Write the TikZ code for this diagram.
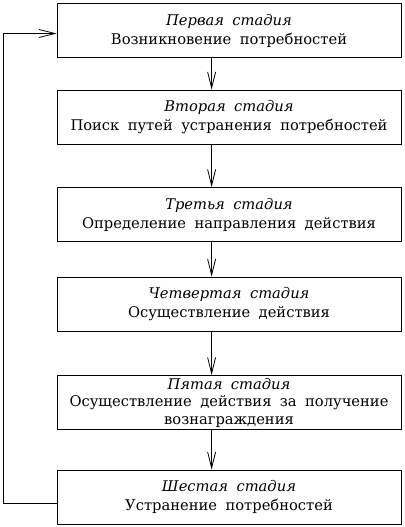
\documentclass[tikz,border=0pt]{standalone}
\usepackage{fontspec}
\setmainfont{DejaVu Serif}[WordSpace=1.8]
\usepackage{tikz}
\usetikzlibrary{arrows.meta}

\begin{document}
\begin{tikzpicture}[x=1pt,y=-1pt,
    stage/.style={draw, line width=0.8pt, minimum width=344pt, minimum height=54pt,
        align=center, inner sep=1pt, font=\fontsize{14.7}{19}\selectfont},
    flow/.style={line width=0.8pt, -{Straight Barb[length=16pt,width=8pt]}}]
    \useasboundingbox (0,0) rectangle (404,527);
    \node[stage] (st1) at (229,30.5) {\textit{Первая стадия}\\Возникновение потребностей};
    \node[stage] (st2) at (229,117) {\textit{Вторая стадия}\\Поиск путей устранения потребностей};
    \node[stage] (st3) at (229,214.5) {\textit{Третья стадия}\\Определение направления действия};
    \node[stage] (st4) at (229,304) {\textit{Четвертая стадия}\\Осуществление действия};
    \node[stage, font=\fontsize{14.7}{17.5}\selectfont] (st5) at (229,402.5) {\textit{Пятая стадия}\\Осуществление действия за получение\\вознаграждения};
    \node[stage] (st6) at (229,497) {\textit{Шестая стадия}\\Устранение потребностей};
    \draw[flow] ([xshift=155pt]st1.south west) -- ([xshift=155pt]st2.north west);
    \draw[flow] ([xshift=155pt]st2.south west) -- ([xshift=155pt]st3.north west);
    \draw[flow] ([xshift=155pt]st3.south west) -- ([xshift=155pt]st4.north west);
    \draw[flow] ([xshift=155pt]st4.south west) -- ([xshift=155pt]st5.north west);
    \draw[flow] ([xshift=155pt]st5.south west) -- ([xshift=155pt]st6.north west);
    \draw[flow] ([yshift=-6pt]st6.west) -- ++(-53,0) |- ([yshift=-3pt]st1.west);
\end{tikzpicture}
\end{document}
